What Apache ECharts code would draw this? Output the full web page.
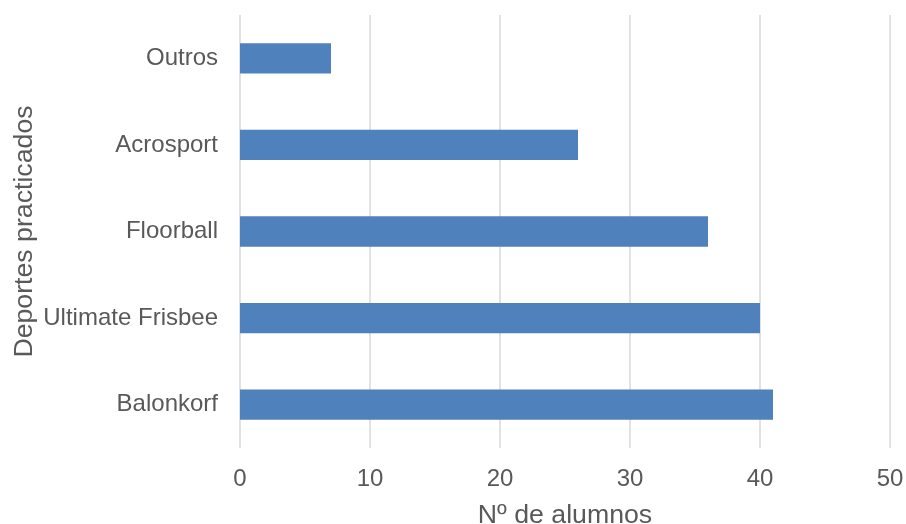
<!DOCTYPE html>
<html>
<head>
<meta charset="utf-8">
<script src="https://cdn.jsdelivr.net/npm/echarts@6/dist/echarts.min.js"></script>
<style>
html,body{margin:0;padding:0;background:#fff;}
#chart{width:906px;height:524px;}
</style>
</head>
<body>
<div id="chart"></div>
<script>
var categories = ["Balonkorf", "Ultimate Frisbee", "Floorball", "Acrosport", "Outros"];
var values = [41, 40, 36, 26, 7];
var xTicks = [0, 10, 20, 30, 40, 50];
var xTitle = "Nº de alumnos";
var yTitle = "Deportes practicados";

var chart = echarts.init(document.getElementById('chart'), null, {renderer: 'canvas'});
var font = "'Liberation Sans', Arial, sans-serif";
var txt = '#595959';
chart.setOption({
  animation: false,
  backgroundColor: '#ffffff',
  grid: {left: 240, right: 16, top: 15, bottom: 76, containLabel: false, outerBoundsMode: 'none'},
  xAxis: {
    type: 'value',
    min: xTicks[0],
    max: xTicks[xTicks.length - 1],
    interval: xTicks[1] - xTicks[0],
    name: xTitle,
    nameLocation: 'middle',
    nameGap: 54,
    nameMoveOverlap: false,
    nameTextStyle: {color: txt, fontSize: 26.7, fontFamily: font},
    axisLine: {show: false},
    axisTick: {show: false},
    axisLabel: {color: txt, fontSize: 24, fontFamily: font, margin: 19},
    splitLine: {show: true, lineStyle: {color: '#d9d9d9', width: 1.5}}
  },
  yAxis: {
    type: 'category',
    data: categories,
    name: yTitle,
    nameLocation: 'middle',
    nameRotate: 90,
    nameGap: 202,
    nameMoveOverlap: false,
    nameTextStyle: {color: txt, fontSize: 26.7, fontFamily: font},
    axisLine: {show: false},
    axisTick: {show: false},
    axisLabel: {color: txt, fontSize: 24, fontFamily: font, margin: 22},
    splitLine: {show: false}
  },
  series: [{
    type: 'bar',
    data: values,
    barWidth: '35%',
    itemStyle: {color: '#4f81bd'}
  }]
});
</script>
</body>
</html>
